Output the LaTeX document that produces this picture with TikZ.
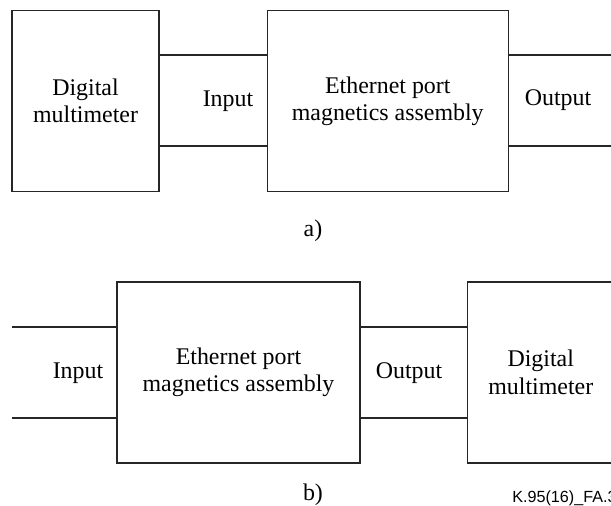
\documentclass[tikz,border=0pt]{standalone}
\usepackage{fontspec}
\setmainfont{Liberation Serif}
\newfontfamily\figfont{Liberation Sans}
\usepackage{tikz}
\usetikzlibrary{positioning}
\tikzset{
    blocknode/.style={
        rectangle,
        draw=black!85, % 边框颜色
        line width=0.9pt,
        minimum height=4.53cm,
        inner sep=0,
        align=center,
        font=\fontsize{17}{19.5}\selectfont
    },
    wire/.style={
        draw=black!85,
        line width=0.9pt
    },
    textnode/.style={
        inner sep=0,
        anchor=base,
        font=\fontsize{17}{19.5}\selectfont
    }
}
\begin{document}
\begin{tikzpicture}[node distance=2.675cm]
            % 画布范围
            \path[clip, use as bounding box] (0,0) rectangle (15.275,-12.65);
            % a) 万用表 -> 网口磁性组件
            \node[blocknode, minimum width=3.675cm] (dmmA) at (2.1375,-2.525) {Digital\\multimeter};
            \node[blocknode, minimum width=6.025cm, right=of dmmA] (ethA) {Ethernet port\\magnetics assembly};
            \coordinate (outA1) at (15.6,-1.375);
            \coordinate (outA2) at (15.6,-3.65);
            \draw[wire] ([yshift=1.15cm]dmmA.east) -- ([yshift=1.15cm]ethA.west);
            \draw[wire] ([yshift=-1.125cm]dmmA.east) -- ([yshift=-1.125cm]ethA.west);
            \draw[wire] (ethA.east |- outA1) -- (outA1);
            \draw[wire] (ethA.east |- outA2) -- (outA2);
            \node[textnode] (inLabA) at (5.7,-2.675) {Input};
            \node[textnode] (outLabA) at (13.95,-2.65) {Output};
            \node[textnode] (capA) at (7.825,-5.9) {a)};
            % b) 网口磁性组件 -> 万用表
            \node[blocknode, minimum width=6.075cm] (ethB) at (5.9625,-9.3125) {Ethernet port\\magnetics assembly};
            \node[blocknode, minimum width=3.675cm, right=2.65cm of ethB] (dmmB) {Digital\\multimeter};
            \coordinate (inB1) at (0.3,-8.175);
            \coordinate (inB2) at (0.3,-10.45);
            \draw[wire] (inB1) -- (ethB.west |- inB1);
            \draw[wire] (inB2) -- (ethB.west |- inB2);
            \draw[wire] ([yshift=1.1375cm]ethB.east) -- ([yshift=1.1375cm]dmmB.west);
            \draw[wire] ([yshift=-1.1375cm]ethB.east) -- ([yshift=-1.1375cm]dmmB.west);
            \node[textnode] (inLabB) at (1.95,-9.45) {Input};
            \node[textnode] (outLabB) at (10.225,-9.45) {Output};
            \node[textnode] (capB) at (7.825,-12.5) {b)};
            \node[inner sep=0, anchor=base west, font=\figfont\fontsize{11.5}{14}\selectfont] (figid) at (12.8,-12.55) {K.95(16)\_FA.3};
\end{tikzpicture}
\end{document}
